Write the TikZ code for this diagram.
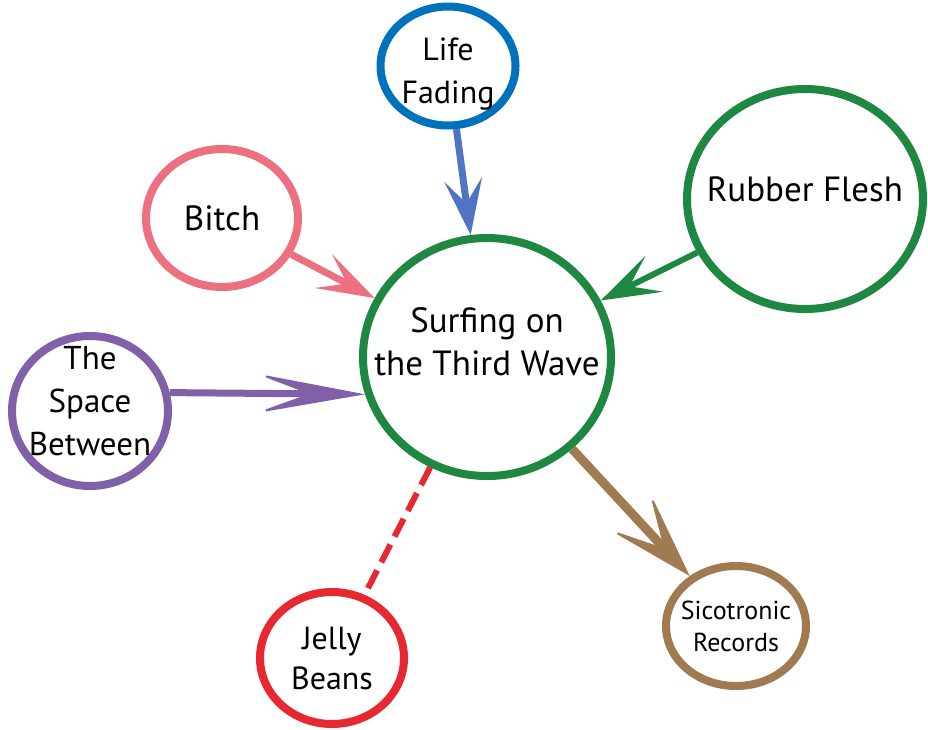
\documentclass[tikz,border=0pt]{standalone}
\usepackage{fontspec}
\setmainfont{PT Sans}
\usetikzlibrary{arrows.meta,shapes.geometric}

\definecolor{surfgreen}{RGB}{30,135,65}
\definecolor{lifeblue}{RGB}{0,114,188}
\definecolor{arrowblue}{RGB}{80,115,195}
\definecolor{bitchpink}{RGB}{236,112,128}
\definecolor{spacepurple}{RGB}{128,96,168}
\definecolor{jellyred}{RGB}{232,40,48}
\definecolor{sicobrown}{RGB}{160,122,80}

\begin{document}
\begin{tikzpicture}[x=1pt,y=-1pt,
        bubble/.style={ellipse,draw=#1,line width=8pt,fill=white,inner sep=0pt},
        every label/.style={font=\fontsize{34}{43}\selectfont,align=center},
        link/.style={line width=7pt,draw=#1}]
    \useasboundingbox (0,0) rectangle (928,729);

    \node[bubble=surfgreen,minimum width=248pt,minimum height=238pt,
        label={[font=\fontsize{35}{43}\selectfont,yshift=15pt]center:{Surfing on\\the Third Wave}}] (surf) at (487,357) {};
    \node[bubble=lifeblue,minimum width=135pt,minimum height=119pt,
        label={[font=\fontsize{32}{43}\selectfont,yshift=-8pt]center:{Life\\Fading}}] (life) at (448,66) {};
    \node[bubble=bitchpink,minimum width=152pt,minimum height=138pt,
        label={[font=\fontsize{35}{43}\selectfont]center:Bitch}] (bitch) at (222,218) {};
    \node[bubble=surfgreen,minimum width=236pt,minimum height=220pt,
        label={[font=\fontsize{35}{43}\selectfont,yshift=10pt]center:Rubber Flesh}] (rubber) at (805,199) {};
    \node[bubble=spacepurple,minimum width=156pt,minimum height=150pt,
        label={[font=\fontsize{33}{43}\selectfont,yshift=10pt]center:{The\\Space\\Between}}] (space) at (90,411) {};
    \node[bubble=jellyred,minimum width=144pt,minimum height=132pt,
        label={[font=\fontsize{32}{40}\selectfont]center:{Jelly\\Beans}}] (jelly) at (332,658) {};
    \node[bubble=sicobrown,minimum width=140pt,minimum height=120pt,
        label={[font=\fontsize{26}{32}\selectfont]center:{Sicotronic\\Records}}] (sico) at (736,626) {};

    \path (life) edge[link=arrowblue,-{Stealth[length=56pt,width=38pt,inset=24pt,line width=2pt]}] (surf)
          (bitch) edge[link=bitchpink,-{Stealth[length=58pt,width=38pt,inset=27pt,line width=2pt]}] (surf)
          (rubber) edge[link=surfgreen,line width=6pt,-{Stealth[length=60pt,width=40pt,inset=28pt,line width=2pt]}] (surf)
          (space.13) edge[link=spacepurple,-{Stealth[length=110pt,width=40pt,inset=54pt,line width=2pt]}] (surf.197)
          (surf) edge[link=sicobrown,line width=9pt,
                -{Stealth[length=90pt,width=56pt,inset=52pt,line width=2pt]}] (sico)
          (surf) edge[link=jellyred,line width=6pt,dash pattern=on 20pt off 9pt] (jelly);
\end{tikzpicture}
\end{document}
